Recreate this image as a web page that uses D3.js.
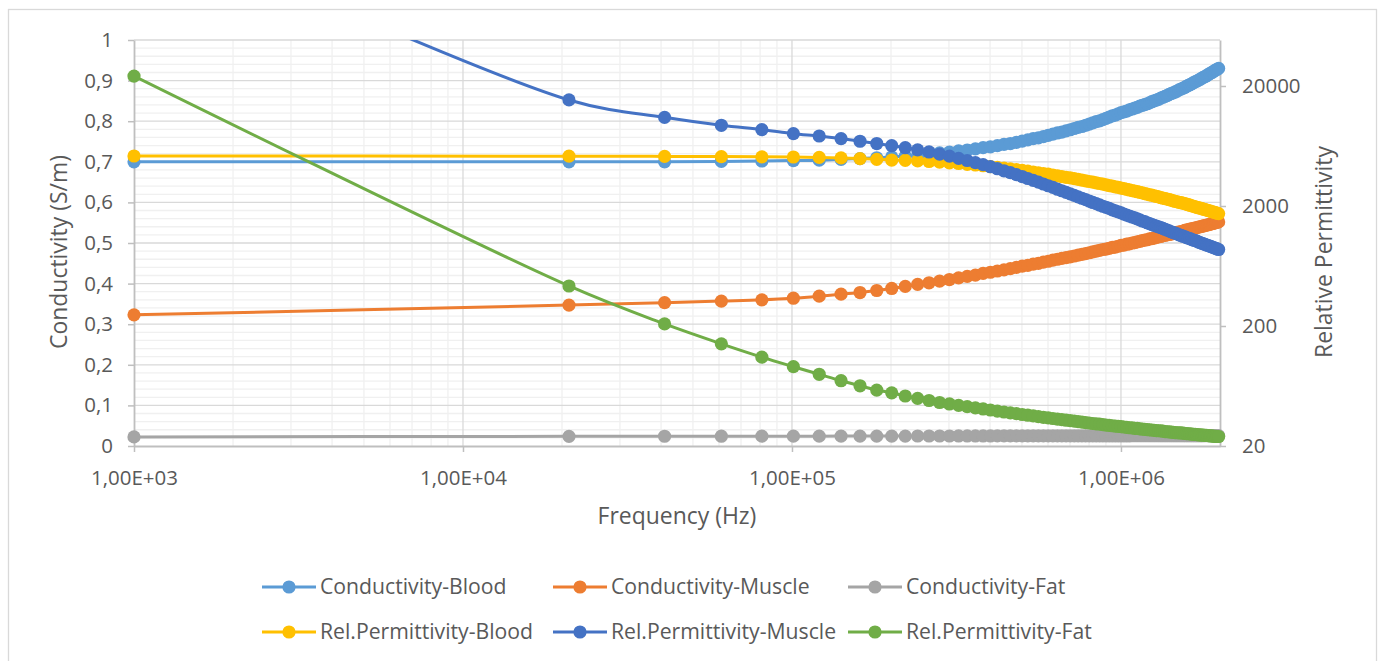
<!DOCTYPE html>
<html><head><meta charset="utf-8">
<script src="https://cdn.jsdelivr.net/npm/d3@7"></script>
<style>
body{margin:0;background:#fff;}
svg text{font-family:"Open Sans","Noto Sans",sans-serif;fill:#595959;}
</style>
</head><body>
<svg id="chart" width="1383" height="661"></svg>
<script>
// ---------------- DATA ----------------
const freqHz = [
 1000,21000,41000,61000,81000,101000,121000,141000,161000,181000,
 201000,221000,241000,261000,281000,301000,321000,341000,361000,381000,
 401000,421000,441000,461000,481000,501000,521000,541000,561000,581000,
 601000,621000,641000,661000,681000,701000,721000,741000,761000,781000,
 801000,821000,841000,861000,881000,901000,921000,941000,961000,981000,
 1001000,1021000,1041000,1061000,1081000,1101000,1121000,1141000,1161000,1181000,
 1201000,1221000,1241000,1261000,1281000,1301000,1321000,1341000,1361000,1381000,
 1401000,1421000,1441000,1461000,1481000,1501000,1521000,1541000,1561000,1581000,
 1601000,1621000,1641000,1661000,1681000,1701000,1721000,1741000,1761000,1781000,
 1801000,1821000,1841000,1861000,1881000,1901000,1921000,1941000,1961000,1981000
];
const condBlood = [
 0.700,0.700,0.700,0.701,0.702,0.703,0.704,0.706,0.708,0.710,
 0.712,0.714,0.717,0.719,0.722,0.724,0.727,0.729,0.732,0.735,
 0.737,0.740,0.743,0.745,0.748,0.751,0.754,0.757,0.759,0.762,
 0.765,0.768,0.771,0.773,0.776,0.779,0.782,0.785,0.787,0.790,
 0.793,0.796,0.799,0.801,0.804,0.807,0.810,0.813,0.815,0.818,
 0.821,0.823,0.825,0.828,0.830,0.832,0.834,0.837,0.839,0.841,
 0.843,0.845,0.848,0.850,0.852,0.854,0.857,0.859,0.861,0.863,
 0.866,0.868,0.870,0.872,0.874,0.877,0.879,0.881,0.883,0.886,
 0.888,0.890,0.892,0.895,0.897,0.899,0.901,0.903,0.906,0.908,
 0.910,0.912,0.915,0.917,0.919,0.921,0.924,0.926,0.928,0.930
];
const condMuscle = [
 0.323,0.347,0.353,0.357,0.360,0.364,0.369,0.374,0.378,0.383,
 0.388,0.393,0.398,0.402,0.406,0.410,0.414,0.418,0.421,0.425,
 0.428,0.431,0.434,0.437,0.440,0.443,0.445,0.448,0.450,0.453,
 0.455,0.458,0.460,0.462,0.464,0.466,0.468,0.470,0.472,0.474,
 0.476,0.478,0.480,0.482,0.484,0.485,0.487,0.489,0.490,0.492,
 0.494,0.495,0.497,0.498,0.500,0.501,0.503,0.504,0.506,0.507,
 0.508,0.510,0.511,0.512,0.514,0.515,0.516,0.518,0.519,0.520,
 0.521,0.522,0.524,0.525,0.526,0.527,0.528,0.529,0.531,0.532,
 0.533,0.534,0.535,0.536,0.537,0.538,0.539,0.540,0.541,0.542,
 0.543,0.544,0.545,0.546,0.547,0.548,0.549,0.550,0.551,0.552
];
const condFat = [
 0.0224,0.0238,0.0240,0.0241,0.0242,0.0243,0.0243,0.0244,0.0244,0.0245,
 0.0245,0.0245,0.0246,0.0246,0.0246,0.0246,0.0247,0.0247,0.0247,0.0247,
 0.0247,0.0248,0.0248,0.0248,0.0248,0.0248,0.0248,0.0249,0.0249,0.0249,
 0.0249,0.0249,0.0249,0.0249,0.0250,0.0250,0.0250,0.0250,0.0250,0.0250,
 0.0250,0.0250,0.0250,0.0251,0.0251,0.0251,0.0251,0.0251,0.0251,0.0251,
 0.0251,0.0251,0.0251,0.0251,0.0252,0.0252,0.0252,0.0252,0.0252,0.0252,
 0.0252,0.0252,0.0252,0.0252,0.0252,0.0252,0.0252,0.0252,0.0252,0.0252,
 0.0253,0.0253,0.0253,0.0253,0.0253,0.0253,0.0253,0.0253,0.0253,0.0253,
 0.0253,0.0253,0.0253,0.0253,0.0253,0.0253,0.0253,0.0253,0.0253,0.0253,
 0.0254,0.0254,0.0254,0.0254,0.0254,0.0254,0.0254,0.0254,0.0254,0.0254
];
const permBlood = [
 5220,5200,5180,5160,5140,5120,5080,5030,4970,4900,
 4830,4800,4750,4700,4640,4580,4520,4450,4390,4330,
 4260,4200,4140,4080,4020,3960,3900,3840,3780,3730,
 3680,3620,3570,3520,3470,3430,3380,3330,3290,3240,
 3200,3160,3120,3080,3040,3000,2960,2930,2890,2860,
 2820,2790,2750,2720,2690,2660,2630,2600,2570,2540,
 2510,2480,2460,2430,2410,2380,2350,2330,2310,2280,
 2260,2240,2210,2190,2170,2150,2130,2110,2090,2070,
 2050,2030,2010,1990,1970,1950,1930,1920,1900,1880,
 1870,1850,1830,1820,1800,1790,1770,1760,1740,1730
];
const permMuscle = [
 500000,15300,10970,9410,8650,8010,7660,7290,6930,6630,
 6360,6120,5880,5640,5410,5200,4990,4790,4600,4420,
 4250,4090,3930,3790,3650,3520,3390,3270,3160,3050,
 2950,2860,2760,2680,2600,2520,2450,2380,2320,2260,
 2200,2140,2090,2040,1990,1950,1910,1860,1820,1790,
 1750,1710,1680,1650,1620,1590,1560,1530,1500,1480,
 1450,1430,1400,1380,1360,1340,1320,1300,1280,1260,
 1240,1220,1200,1190,1170,1150,1140,1120,1110,1090,
 1080,1070,1050,1040,1030,1020,1000,991,979,968,
 957,946,936,926,916,906,896,887,877,868
];
const permFat = [
 24200,431,208,142,110,91.6,79.2,70.0,63.5,58.5,
 55.5,52.2,49.9,47.9,46.1,44.8,43.6,42.6,41.6,40.7,
 39.9,39.1,38.4,37.8,37.2,36.6,36.1,35.6,35.2,34.7,
 34.3,33.9,33.5,33.2,32.8,32.5,32.2,31.9,31.6,31.3,
 31.1,30.8,30.6,30.4,30.1,29.9,29.7,29.5,29.3,29.1,
 29.0,28.8,28.6,28.4,28.3,28.1,28.0,27.8,27.7,27.5,
 27.4,27.3,27.2,27.0,26.9,26.8,26.7,26.6,26.4,26.3,
 26.2,26.1,26.0,25.9,25.8,25.7,25.7,25.6,25.5,25.4,
 25.3,25.2,25.1,25.0,25.0,24.9,24.8,24.8,24.7,24.6,
 24.5,24.5,24.4,24.3,24.3,24.2,24.1,24.1,24.0,24.0
];
const seriesNames = ["Conductivity-Blood","Conductivity-Muscle","Conductivity-Fat",
  "Rel.Permittivity-Blood","Rel.Permittivity-Muscle","Rel.Permittivity-Fat"];
const xTicks = [1e3,1e4,1e5,1e6];
const xTickLabels = ["1,00E+03","1,00E+04","1,00E+05","1,00E+06"];
const leftTicks = [0,0.1,0.2,0.3,0.4,0.5,0.6,0.7,0.8,0.9,1];
const rightTicks = [20,200,2000,20000];
const rightTickLabels = ["20","200","2000","20000"];
const xTitle = "Frequency (Hz)";
const yLeftTitle = "Conductivity (S/m)";
const yRightTitle = "Relative Permittivity";

// ---------------- STYLE / LAYOUT ----------------
const colors = ["#5B9BD5","#ED7D31","#A5A5A5","#FFC000","#4472C4","#70AD47"];
const axisOf = ["L","L","L","R","R","R"];
const valuesOf = [condBlood,condMuscle,condFat,permBlood,permMuscle,permFat];
const P = {l:134, r:1220, t:40, b:446};

const svg = d3.select("#chart");

// font size that makes a string a given width
function fitSize(str, target){
  const t = svg.append("text").attr("font-size",20).text(str);
  const w = t.node().getComputedTextLength(); t.remove();
  return 20*target/w;
}
const tickFS = fitSize("1,00E+03", 87);
const titleFS = (fitSize(xTitle,161)+fitSize(yLeftTitle,185)+fitSize(yRightTitle,219))/3;
const legFS = (fitSize("Conductivity-Blood",185)+fitSize("Rel.Permittivity-Muscle",227))/2;

svg.append("rect").attr("x",8.5).attr("y",9.5).attr("width",1368).attr("height",700)
  .attr("fill","#fff").attr("stroke","#d9d9d9").attr("stroke-width",1.3);

const x = d3.scaleLog().domain([1000,2e6]).range([P.l,P.r]);
const yL = d3.scaleLinear().domain([0,1]).range([P.b,P.t]);
const yR = d3.scaleLog().domain([20,48340]).range([P.b,P.t]);

// grid
const g = svg.append("g");
const minorX = [];
[1e3,1e4,1e5,1e6].forEach(dec=>{ for(let k=2;k<=9;k++){ const v=dec*k; if(v<2e6) minorX.push(v);} });
const minorY = d3.range(0,50).map(i=>i*0.02).filter(v=>Math.abs(v*10-Math.round(v*10))>1e-6);
g.selectAll(".mx").data(minorX).join("line")
  .attr("x1",d=>x(d)).attr("x2",d=>x(d)).attr("y1",P.t).attr("y2",P.b)
  .attr("stroke","#f0f0f0").attr("stroke-width",1.3);
g.selectAll(".my").data(minorY).join("line")
  .attr("x1",P.l).attr("x2",P.r).attr("y1",d=>yL(d)).attr("y2",d=>yL(d))
  .attr("stroke","#f0f0f0").attr("stroke-width",1.3);
g.selectAll(".Mx").data([1e4,1e5,1e6]).join("line")
  .attr("x1",d=>x(d)).attr("x2",d=>x(d)).attr("y1",P.t).attr("y2",P.b)
  .attr("stroke","#d9d9d9").attr("stroke-width",1.3);
g.selectAll(".My").data(leftTicks.slice(1)).join("line")
  .attr("x1",P.l).attr("x2",P.r).attr("y1",d=>yL(d)).attr("y2",d=>yL(d))
  .attr("stroke","#d9d9d9").attr("stroke-width",1.3);

// axes
const fmtL = d=> d3.format(".1~f")(d).replace(".",",");
const axL = svg.append("g").attr("transform",`translate(${P.l},0)`)
  .call(d3.axisLeft(yL).tickValues(leftTicks).tickFormat(fmtL).tickSize(6).tickSizeOuter(0).tickPadding(15));
const axB = svg.append("g").attr("transform",`translate(0,${P.b})`)
  .call(d3.axisBottom(x).tickValues(xTicks).tickFormat((d,i)=>xTickLabels[i]).tickSize(6).tickSizeOuter(0).tickPadding(18));
const axR = svg.append("g").attr("transform",`translate(${P.r},0)`)
  .call(d3.axisRight(yR).tickValues(rightTicks).tickFormat((d,i)=>rightTickLabels[i]).tickSize(6).tickSizeOuter(0).tickPadding(16));
[axL,axB,axR].forEach(a=>{
  a.select(".domain").attr("stroke","#bfbfbf").attr("stroke-width",1.8);
  a.selectAll(".tick line").attr("stroke","#bfbfbf").attr("stroke-width",1.5);
  a.selectAll(".tick text").attr("font-size",tickFS).attr("fill","#595959")
   .style("font-family","'Open Sans','Noto Sans',sans-serif");
});

// titles
svg.append("text").attr("x",(P.l+P.r)/2).attr("y",524).attr("text-anchor","middle")
  .attr("font-size",titleFS).text(xTitle);
svg.append("text").attr("transform","translate(67,252) rotate(-90)").attr("text-anchor","middle")
  .attr("font-size",titleFS).text(yLeftTitle);
svg.append("text").attr("transform","translate(1332,252) rotate(-90)").attr("text-anchor","middle")
  .attr("font-size",titleFS).text(yRightTitle);

// series
svg.append("clipPath").attr("id","plotclip").append("rect")
  .attr("x",P.l).attr("y",P.t).attr("width",P.r-P.l).attr("height",P.b-P.t);
valuesOf.forEach((vals,si)=>{
  const ys = axisOf[si]==="L"?yL:yR;
  const pts = vals.map((v,i)=>[x(freqHz[i]), ys(v)]);
  const sg = svg.append("g");
  sg.append("path").attr("d", d3.line().curve(d3.curveCatmullRom.alpha(0.5))(pts))
    .attr("fill","none").attr("stroke",colors[si]).attr("stroke-width",3)
    .attr("clip-path","url(#plotclip)");
  sg.selectAll("circle").data(pts.filter(p=>p[1]>=P.t-0.5 && p[1]<=P.b+0.5)).join("circle")
    .attr("cx",d=>d[0]).attr("cy",d=>d[1]).attr("r",6.6).attr("fill",colors[si]);
});

// legend
const legCols = [262,553,848], legRows = [587,632];
seriesNames.forEach((name,si)=>{
  const lx = legCols[si%3], ly = legRows[Math.floor(si/3)];
  const lg = svg.append("g");
  lg.append("line").attr("x1",lx).attr("x2",lx+54).attr("y1",ly).attr("y2",ly)
    .attr("stroke",colors[si]).attr("stroke-width",3);
  lg.append("circle").attr("cx",lx+27).attr("cy",ly).attr("r",6.6).attr("fill",colors[si]);
  lg.append("text").attr("x",lx+58).attr("y",ly).attr("dy","0.35em").attr("font-size",legFS).text(name);
});
</script>
</body></html>
